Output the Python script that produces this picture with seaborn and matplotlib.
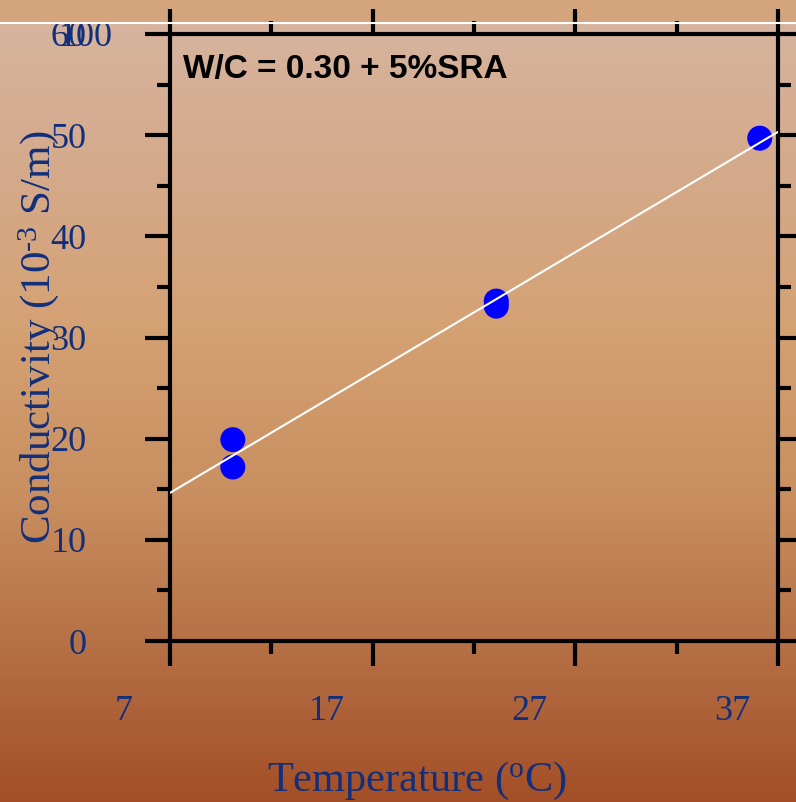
import numpy as np
import pandas as pd
import matplotlib
matplotlib.use('Agg')
import matplotlib.pyplot as plt
import matplotlib.transforms as mtransforms
from matplotlib.lines import Line2D
from matplotlib.ticker import FixedLocator, MultipleLocator
import seaborn as sns

#=====DATA=====
temperature = [10.1, 10.1, 23.1, 23.1, 36.1]
conductivity = [19.9, 17.2, 33.6, 33.1, 49.7]
x_ticks = [7, 17, 27, 37]
x_minor = [12, 22, 32]
y_ticks = [0, 10, 20, 30, 40, 50, 60]
note = "W/C = 0.30 + 5%SRA"

df = pd.DataFrame({"Temperature": temperature, "Conductivity": conductivity})

navy = '#112F7B'

#=====STYLE=====
sns.set_theme(style='ticks')
plt.rcParams['font.family'] = ['Liberation Serif', 'DejaVu Serif']
plt.rcParams['mathtext.default'] = 'regular'

W, H = 796, 802
fig = plt.figure(figsize=(W / 100, H / 100), dpi=100)

#=====BACKGROUND GRADIENT=====
stops_y = [22, 150, 330, 500, 650, 802]
stops_c = np.array([[214, 180, 158], [213, 171, 142], [212, 161, 115],
                    [200, 142, 95], [181, 111, 69], [163, 78, 38]]) / 255
rows = np.arange(H)
grad = np.stack([np.interp(rows, stops_y, stops_c[:, k]) for k in range(3)], axis=1)
grad[rows < 22] = np.array([212, 164, 125]) / 255
bg = fig.add_axes([0, 0, 1, 1], zorder=-10)
bg.imshow(grad[:, None, :], aspect='auto', extent=[0, 1, 0, 1])
bg.axis('off')
fig.add_artist(Line2D([0, 1], [1 - 22.5 / H, 1 - 22.5 / H], transform=fig.transFigure,
                      color='white', lw=1.5))

#=====MAIN AXES=====
ax = fig.add_axes([170 / W, (H - 641) / H, 608 / W, 607 / H])
ax.patch.set_alpha(0)
ax.set_xlim(7, 37)
ax.set_ylim(0, 60)

sns.scatterplot(data=df, x="Temperature", y="Conductivity", ax=ax, color='blue',
                s=324, edgecolor='none', linewidth=0, zorder=3, legend=False)
sns.regplot(data=df, x="Temperature", y="Conductivity", ax=ax, scatter=False, ci=None,
            truncate=False, color='white', line_kws={'lw': 1.5, 'zorder': 4})
ax.set_xlim(7, 37)
ax.set_ylim(0, 60)

#=====TICKS=====
ax.set_xticks(x_ticks)
ax.set_yticks(y_ticks)
ax.xaxis.set_minor_locator(FixedLocator(x_minor))
ax.yaxis.set_minor_locator(MultipleLocator(5))
ax.tick_params(which='both', direction='out', top=True, right=True, width=3,
               color='black', labelcolor=navy, labelsize=26)
ax.tick_params(which='major', length=18)
ax.tick_params(which='minor', length=9.4)
ax.tick_params(axis='y', which='major', pad=42)
ax.tick_params(axis='x', which='major', pad=21)
shift = mtransforms.ScaledTranslation(-0.46, 0, fig.dpi_scale_trans)
for lab in ax.get_xticklabels():
    lab.set_transform(lab.get_transform() + shift)
for sp in ax.spines.values():
    sp.set_linewidth(3)
    sp.set_color('black')
    sp.set_visible(True)

# overlapping stray label at the top of the y axis
ax.annotate('100', xy=(0, 60), xycoords=('axes fraction', 'data'), xytext=(-41, 0),
            textcoords='offset points', ha='right', va='center_baseline',
            fontsize=26, color=navy)

#=====LABELS=====
ax.set_xlabel('Temperature ($^{o}$C)', fontsize=30.5, color=navy)
ax.set_ylabel('Conductivity (10$^{\u20103}$ S/m)', fontsize=31, color=navy)
ax.xaxis.set_label_coords(0.406, -0.196)
ax.yaxis.set_label_coords(-0.18, 0.5)

ax.text(0.021, 0.9275, note, transform=ax.transAxes, fontsize=24, fontweight='bold',
        family='Liberation Sans', color='black', ha='left', va='baseline')

fig.savefig('out.png', dpi=100)
